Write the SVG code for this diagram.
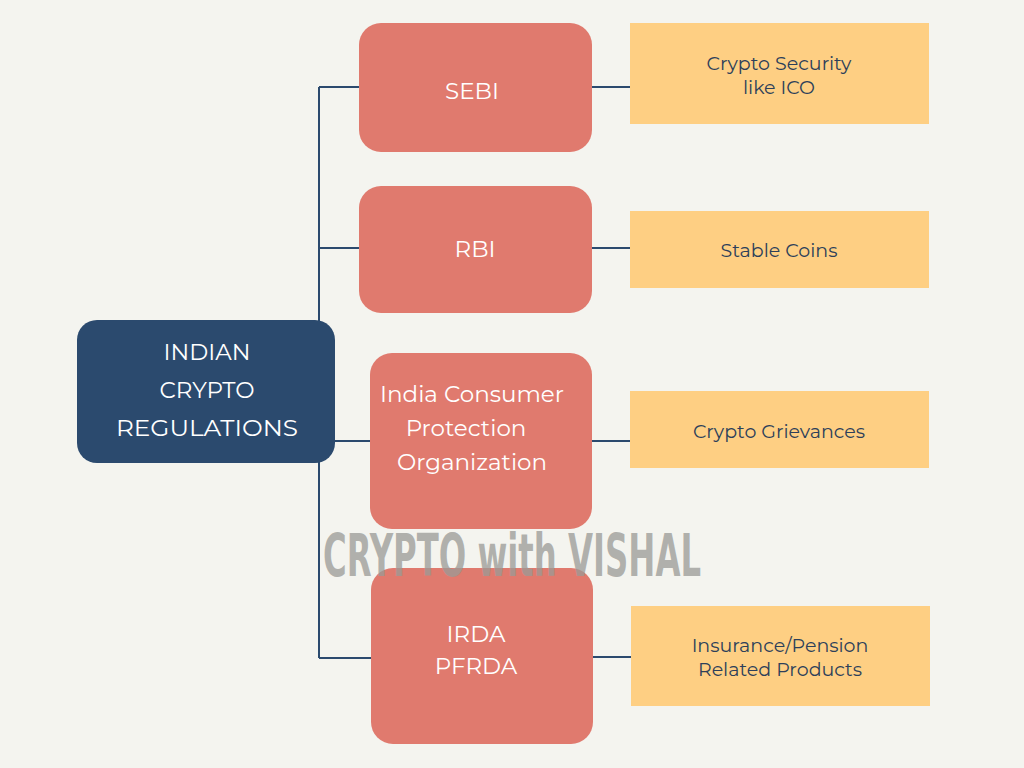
<svg xmlns="http://www.w3.org/2000/svg" width="1024" height="768" viewBox="0 0 1024 768">
<style>
.c{stroke:#2b4a6e;stroke-width:2;fill:none}
.r{fill:#e07a6e}
.y{fill:#fecf83}
.w{fill:#fff;font-family:Montserrat,"Open Sans","Liberation Sans",sans-serif;font-size:23px;text-anchor:middle}
.d{fill:#2d3f5a;font-family:Montserrat,"Open Sans","Liberation Sans",sans-serif;font-size:19px;text-anchor:middle}
</style>
<rect width="1024" height="768" fill="#f4f4ef"/>
<g id="connectors" class="c">
<path d="M319 87V658M319 87H360M319 248H360M319 441H371M319 658H372"/>
<path d="M592 87H630M592 248H630M592 441H630M593 657H631"/>
</g>
<g id="root"><rect x="77" y="320" width="258" height="143" rx="20" fill="#2b4a6e"/>
<text class="w" x="207" y="360" font-size="26">INDIAN</text><text class="w" x="207" y="398" font-size="26">CRYPTO</text><text class="w" x="207" y="436" font-size="26" textLength="182" lengthAdjust="spacingAndGlyphs">REGULATIONS</text></g>
<g id="sebi"><rect class="r" x="359" y="23" width="233" height="129" rx="22"/><text class="w" x="472" y="99">SEBI</text></g>
<g id="rbi"><rect class="r" x="359" y="186" width="233" height="127" rx="22"/><text class="w" x="475" y="257">RBI</text></g>
<g id="icpo"><rect class="r" x="370" y="353" width="222" height="176" rx="22"/><text class="w" x="472" y="402">India Consumer</text><text class="w" x="466" y="436">Protection</text><text class="w" x="472" y="470">Organization</text></g>
<g id="irda"><rect class="r" x="371" y="568" width="222" height="176" rx="22"/><text class="w" x="476" y="642">IRDA</text><text class="w" x="476" y="674">PFRDA</text></g>
<g id="y1"><rect class="y" x="630" y="23" width="299" height="101"/><text class="d" x="779" y="70">Crypto Security</text><text class="d" x="779" y="94">like ICO</text></g>
<g id="y2"><rect class="y" x="630" y="211" width="299" height="77"/><text class="d" x="779" y="257">Stable Coins</text></g>
<g id="y3"><rect class="y" x="630" y="391" width="299" height="77"/><text class="d" x="779" y="438">Crypto Grievances</text></g>
<g id="y4"><rect class="y" x="631" y="606" width="299" height="100"/><text class="d" x="780" y="652">Insurance/Pension</text><text class="d" x="780" y="676">Related Products</text></g>
<text x="323" y="576" textLength="378" lengthAdjust="spacingAndGlyphs" font-family="'DejaVu Sans Condensed','DejaVu Sans',sans-serif" font-weight="bold" font-size="58" fill="#9a9a96" fill-opacity="0.75">CRYPTO with VISHAL</text>
</svg>
